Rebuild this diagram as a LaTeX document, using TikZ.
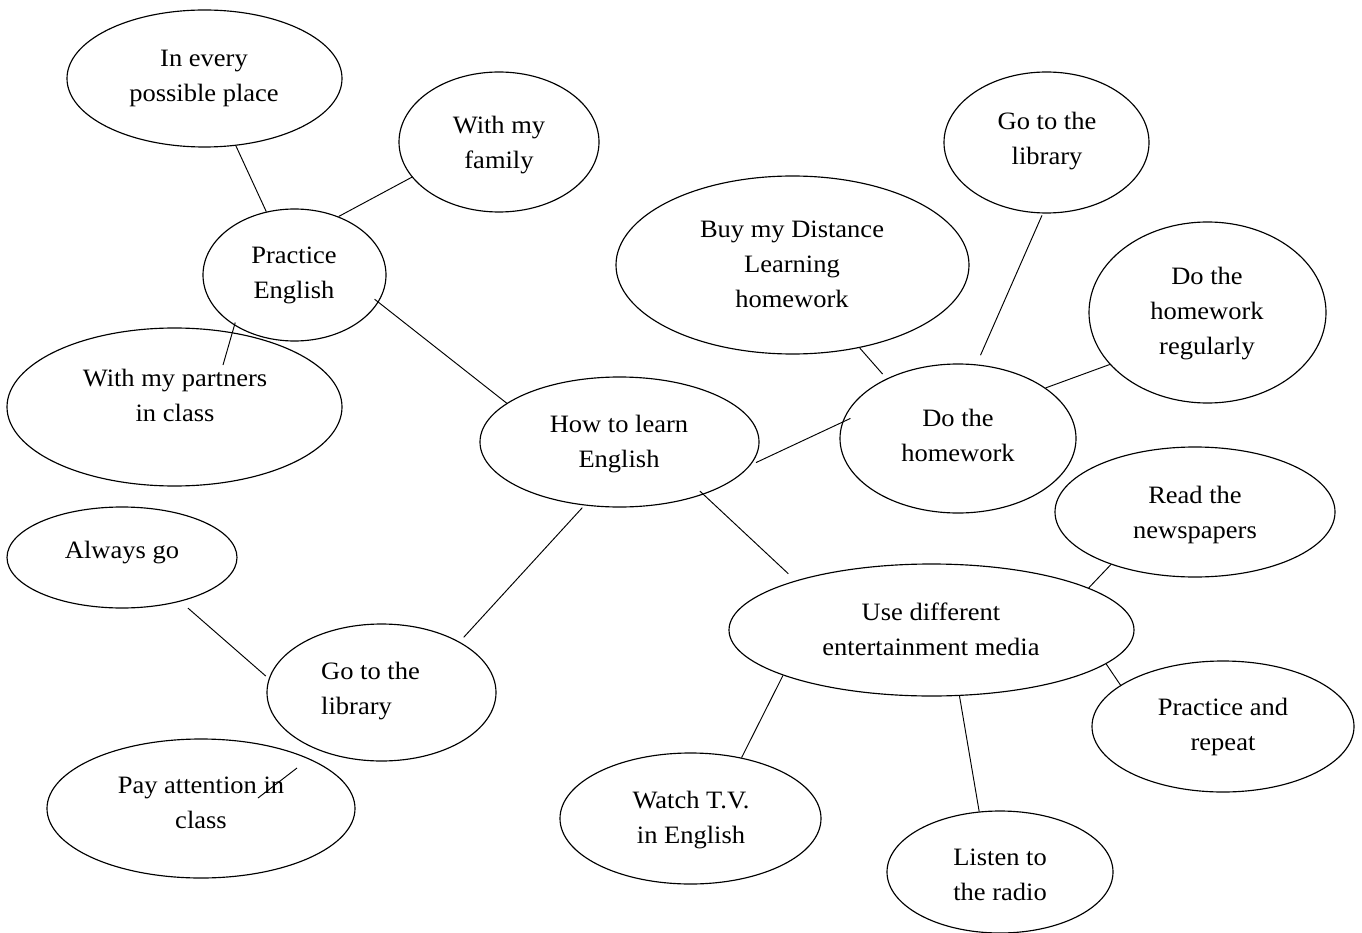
\documentclass[tikz,border=0pt]{standalone}
\usepackage{fontspec}
\setmainfont{Liberation Serif}[FakeStretch=1.06]
\usetikzlibrary{shapes.geometric}

\begin{document}
\begin{tikzpicture}[x=1pt,y=-1pt,
  bubble/.style={draw, ellipse, line width=1.15pt, inner sep=0pt},
  words/.style={anchor=north, inner sep=0pt, align=center, yshift=-1pt,
                font=\fontsize{25}{35}\selectfont},
  link/.style={line width=0.95pt}]

% page frame
\path[use as bounding box] (0,0) rectangle (1362,933);

% ellipses
\node[bubble, minimum width=275pt, minimum height=137pt] (every)    at (204.5,78.5) {};
\node[bubble, minimum width=200pt, minimum height=140pt] (family)   at (499,142)    {};
\node[bubble, minimum width=183pt, minimum height=132pt] (practice) at (294.5,275)  {};
\node[bubble, minimum width=335pt, minimum height=158pt] (partners) at (174.5,407)  {};
\node[bubble, minimum width=279pt, minimum height=130pt] (how)      at (619.5,442)  {};
\node[bubble, minimum width=353pt, minimum height=178pt] (buy)      at (792.5,265)  {};
\node[bubble, minimum width=205pt, minimum height=141pt] (libtop)   at (1046.5,142.5) {};
\node[bubble, minimum width=237pt, minimum height=181pt] (regular)  at (1207.5,312.5) {};
\node[bubble, minimum width=236pt, minimum height=149pt] (homework) at (958,438.5)  {};
\node[bubble, minimum width=280pt, minimum height=130pt] (news)     at (1195,512)   {};
\node[bubble, minimum width=230pt, minimum height=101pt] (always)   at (122,557.5)  {};
\node[bubble, minimum width=229pt, minimum height=137pt] (libbot)   at (381.5,692.5) {};
\node[bubble, minimum width=308pt, minimum height=139pt] (pay)      at (201,808.5)  {};
\node[bubble, minimum width=405pt, minimum height=132pt] (media)    at (931.5,630)  {};
\node[bubble, minimum width=262pt, minimum height=131pt] (repeat)   at (1223,726.5) {};
\node[bubble, minimum width=261pt, minimum height=131pt] (watch)    at (690.5,818.5) {};
\node[bubble, minimum width=226pt, minimum height=122pt] (radio)    at (1000,872)   {};

% texts
\node[words] (t-every)    at (204,49)   {In every\\possible place};
\node[words] (t-family)   at (499,115)  {With my\\family};
\node[words] (t-practice) at (294,246)  {Practice\\English};
\node[words] (t-partners) at (175,368)  {With my partners\\in class};
\node[words] (t-how)      at (619,414)  {How to learn\\English};
\node[words] (t-buy)      at (792,220)  {Buy my Distance\\Learning\\homework};
\node[words] (t-libtop)   at (1047,111) {Go to the\\library};
\node[words] (t-regular)  at (1207,266) {Do the\\homework\\regularly};
\node[words] (t-homework) at (958,408)  {Do the\\homework};
\node[words] (t-news)     at (1195,485) {Read the\\newspapers};
\node[words] (t-always)   at (122,540)  {Always go};
\node[words, anchor=north west, align=left] (t-libbot) at (321,661) {Go to the\\library};
\node[words] (t-pay)      at (201,776)  {Pay attention in\\class};
\node[words] (t-media)    at (931,602)  {Use different\\entertainment media};
\node[words] (t-repeat)   at (1223,697) {Practice and\\repeat};
\node[words] (t-watch)    at (691,790)  {Watch T.V.\\in English};
\node[words] (t-radio)    at (1000,848) {Listen to\\the radio};

% connectors
\coordinate (partners-tip) at (223,365);
\draw[link] (every.-65) -- (practice.114);
\draw[link] (practice.53) -- (family.202);
\draw[link, shorten <=-5pt] (practice.-18) -- (how.161);
\draw[link, shorten <=-3pt] (practice.220) -- (partners-tip);
\draw[link, shorten <=6pt, shorten >=-9pt] (how.-10) -- (homework.172);
\draw[link, shorten <=-5pt, shorten >=10pt] (how.-32) -- (media.160);
\draw[link, shorten <=3pt, shorten >=6pt] (how.241) -- (libbot.33);
\draw[link, shorten >=6pt] (buy.-51) -- (homework.140);
\draw[link, shorten <=2pt, shorten >=10pt] (libtop.267) -- (homework.76);
\draw[link] (homework.30) -- (regular.208);
\draw[link] (news.212) -- (media.15);
\draw[link] (media.-11) -- (repeat.158);
\draw[link] (media.197) -- (watch.50);
\draw[link] (media.-67) -- (radio.109);
\draw[link, shorten <=10pt, shorten >=4pt] (always.-37) -- (libbot.173);

% stray stroke across "in"
\draw[link] (258,798) -- (297,768);
\end{tikzpicture}
\end{document}
